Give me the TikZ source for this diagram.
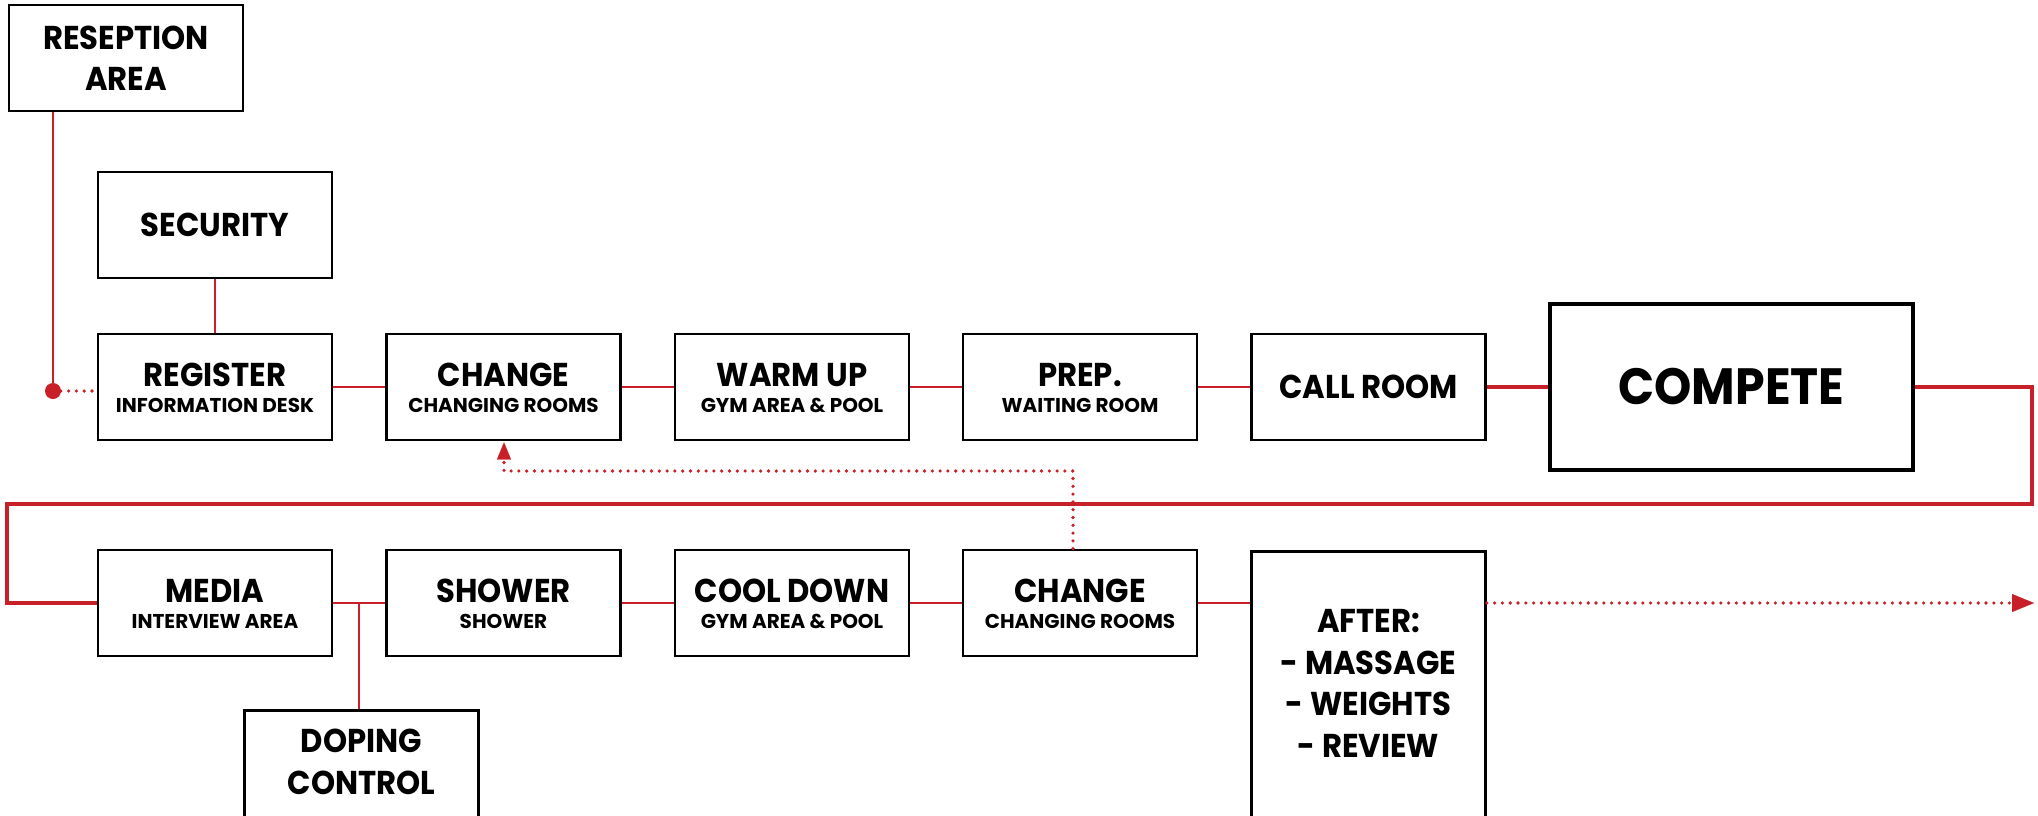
\documentclass[tikz,border=0pt]{standalone}
\usepackage{fontspec}
\setmainfont{Poppins}[FakeStretch=0.93]
\newfontfamily\subfamily{Poppins}
\usetikzlibrary{arrows.meta,calc}
\definecolor{flowred}{RGB}{200,32,40}
\begin{document}
\begin{tikzpicture}[x=1pt,y=-1pt,
  box/.style={draw=black,line width=2.6pt,minimum width=234pt,minimum height=106pt,inner sep=0pt},
  maintext/.style={font=\bfseries\fontsize{33}{41.5}\selectfont,align=center,inner sep=0pt},
  subtext/.style={font=\subfamily\bfseries\fontsize{20}{24}\selectfont,inner sep=0pt},
  link/.style={draw=flowred,line width=2pt},
  flow/.style={draw=flowred,line width=4.7pt,line join=miter},
  dots/.style={draw=flowred,line width=3.6pt,line cap=round,dash pattern=on 0pt off 7.8pt},
]
\useasboundingbox (0,0) rectangle (2038,815);
\fill[white] (0,0) rectangle (2038,815);
\newcommand\twobox[5]{%
  \node[box] (#1) at (#2,#3) {};
  \node[maintext,anchor=base] (#1-a) at (#2,#3-1) {#4};
  \node[subtext,anchor=base] (#1-b) at (#2,#3+25) {#5};}
% top row
\node[box,maintext] (rec) at (126,58) {RESEPTION\\AREA};
\node[box,maintext] (sec) at (215,225) {SECURITY};
\twobox{reg}{215}{387}{REGISTER}{INFORMATION DESK}
\twobox{chga}{503.5}{387}{CHANGE}{CHANGING ROOMS}
\twobox{warm}{792}{387}{WARM UP}{GYM AREA \& POOL}
\twobox{prep}{1080}{387}{PREP.}{WAITING ROOM}
\node[box,maintext] (call) at (1368.5,387) {CALL ROOM};
\node[box,line width=3.5pt,minimum width=363pt,minimum height=166pt,
  font=\bfseries\fontsize{51}{51}\selectfont] (comp) at (1731.5,387) {COMPETE};
% bottom row
\twobox{media}{215}{603}{MEDIA}{INTERVIEW AREA}
\twobox{shower}{503.5}{603}{SHOWER}{SHOWER}
\twobox{cool}{792}{603}{COOL DOWN}{GYM AREA \& POOL}
\twobox{chgb}{1080}{603}{CHANGE}{CHANGING ROOMS}
\node[box,minimum height=290pt,anchor=north] (after) at (1368.5,550) {};
\node[maintext] (after-t) at (1368.5,683.5) {AFTER:\\- MASSAGE\\- WEIGHTS\\- REVIEW};
\node[box,minimum height=150pt,anchor=north] (dop) at (361.5,709) {};
\node[maintext] (dop-t) at (361.5,762) {DOPING\\CONTROL};
% coordinates
\coordinate (dot) at (53,391);
\coordinate (r1) at (2032,387);
\coordinate (r2) at (2032,504);
\coordinate (l1) at (7,504);
\coordinate (l2) at (7,603);
\coordinate (jn) at (359,603);
\coordinate (back) at (1073,471);
\coordinate (backl) at (504,471);
\coordinate (exit) at (2034,603);
% connectors
\draw[link] (rec.south -| dot) -- (dot);
\fill[flowred] (dot) circle (8pt);
\draw[dots] (dot) -- (reg.west |- dot);
\draw[link] (sec) -- (reg);
\draw[link] (reg) -- (chga);
\draw[link] (chga) -- (warm);
\draw[link] (warm) -- (prep);
\draw[link] (prep) -- (call);
\draw[flow] (call) -- (comp);
\draw[flow] (comp.east) -- (r1) -- (r2) -- (l1) -- (l2) -- (media.west);
\draw[link] (media) -- (shower);
\draw[link] (jn) -- (jn |- dop.north);
\draw[link] (shower) -- (cool);
\draw[link] (cool) -- (chgb);
\draw[link] (chgb.east) -- (after.west |- chgb.east);
\draw[dots,-{Triangle[length=22pt,width=18pt,line width=0.1pt]}] (after.east |- chgb.east) -- (exit);
\draw[dots,-{Triangle[length=17pt,width=14pt,line width=0.1pt]},shorten >=1pt] (chgb.north -| back) -- (back) -- (backl) -- (chga.south -| backl);
\end{tikzpicture}
\end{document}
